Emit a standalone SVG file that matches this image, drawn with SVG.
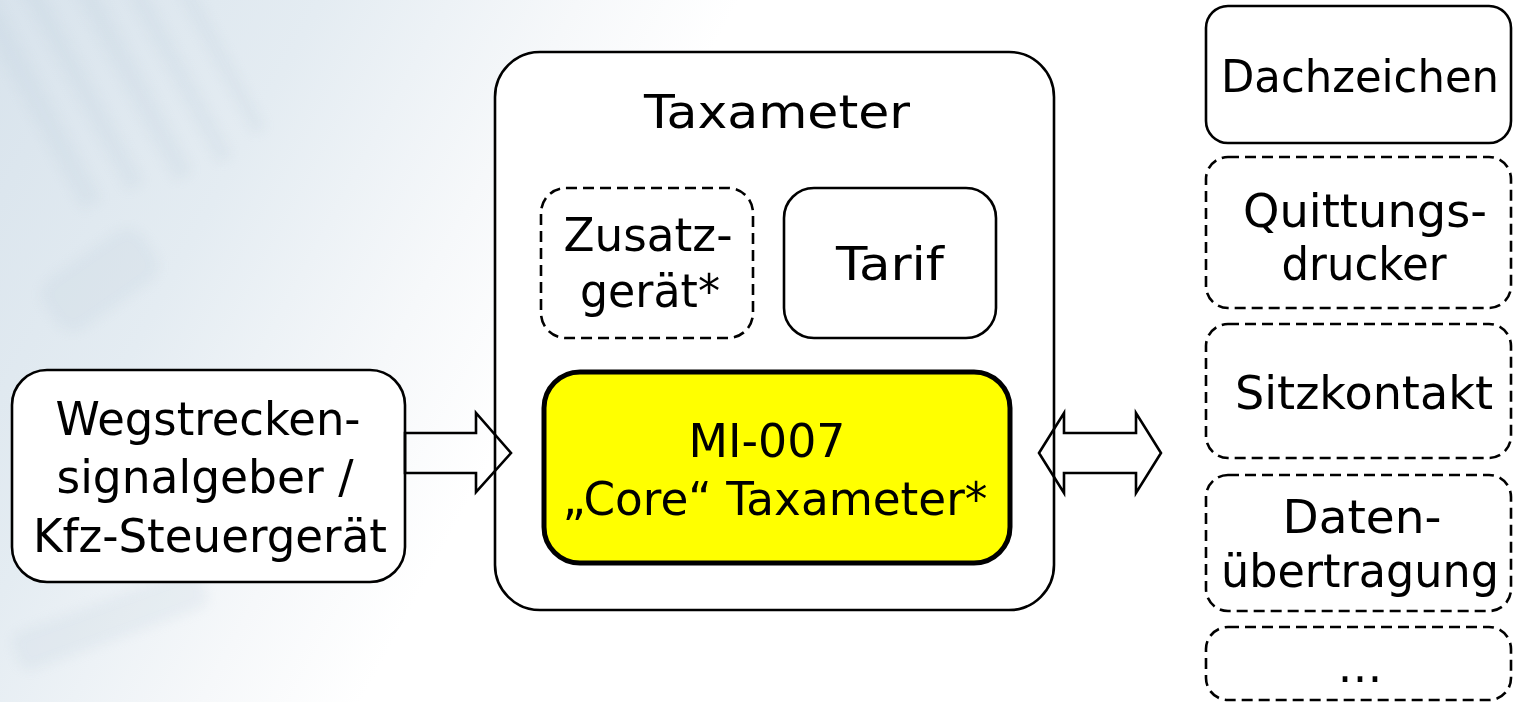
<svg xmlns="http://www.w3.org/2000/svg" width="1514" height="702" viewBox="0 0 1514 702">
  <defs>
    <linearGradient id="bgFade" x1="0" y1="0" x2="1" y2="0.25">
      <stop offset="0" stop-color="#d8e3ec"/>
      <stop offset="0.2" stop-color="#e4ecf2"/>
      <stop offset="0.36" stop-color="#f6f8fa"/>
      <stop offset="0.46" stop-color="#ffffff"/>
      <stop offset="1" stop-color="#ffffff"/>
    </linearGradient>
    <filter id="soft" x="-20%" y="-20%" width="140%" height="140%">
      <feGaussianBlur stdDeviation="6"/>
    </filter>
    <style>
      .box { fill: #ffffff; stroke: #000000; stroke-width: 2.6; }
      .dash { fill: #ffffff; stroke: #000000; stroke-width: 2.6; stroke-dasharray: 11 6; }
      .core { fill: #ffff00; stroke: #000000; stroke-width: 5; }
      .arrow { fill: none; stroke: #000000; stroke-width: 2.6; stroke-linejoin: miter; }
      text { font-family: "DejaVu Sans", "Liberation Sans", sans-serif; font-size: 47px; fill: #000000; text-anchor: middle; }
      .tight { font-size: 44px; }
    </style>
  </defs>

  <!-- background: pale blue wash on the left fading to white -->
  <rect x="0" y="0" width="1514" height="702" fill="url(#bgFade)"/>
  <g filter="url(#soft)" opacity="0.18" fill="#b9cbd9">
    <rect x="20" y="-40" width="22" height="260" transform="rotate(-28 30 90)"/>
    <rect x="70" y="-40" width="18" height="240" transform="rotate(-28 80 80)"/>
    <rect x="120" y="-40" width="20" height="230" transform="rotate(-28 130 75)"/>
    <rect x="170" y="-30" width="16" height="200" transform="rotate(-28 180 70)"/>
    <rect x="215" y="-20" width="14" height="160" transform="rotate(-28 222 60)"/>
    <rect x="40" y="250" width="120" height="60" rx="20" transform="rotate(-35 100 280)"/>
    <rect x="10" y="600" width="200" height="40" rx="12" transform="rotate(-20 110 620)"/>
  </g>

  <!-- nodes -->
  <g id="wegstrecken">
    <rect class="box" x="12" y="370" width="393" height="212" rx="35"/>
    <text x="208" y="435" textLength="305" lengthAdjust="spacingAndGlyphs">Wegstrecken-</text>
    <text x="205" y="493" textLength="297" lengthAdjust="spacingAndGlyphs">signalgeber /</text>
    <text x="210" y="552" textLength="354" lengthAdjust="spacingAndGlyphs">Kfz-Steuergerät</text>
  </g>

  <g id="taxameter">
    <rect class="box" x="495" y="52" width="559" height="558" rx="45"/>
    <text x="777" y="128" textLength="266" lengthAdjust="spacingAndGlyphs">Taxameter</text>
  </g>

  <g id="zusatzgeraet">
    <rect class="dash" x="541" y="188" width="212" height="150" rx="25"/>
    <text x="648" y="251" textLength="169" lengthAdjust="spacingAndGlyphs">Zusatz-</text>
    <text x="650" y="307" textLength="140" lengthAdjust="spacingAndGlyphs">gerät*</text>
  </g>

  <g id="tarif">
    <rect class="box" x="784" y="188" width="212" height="150" rx="30"/>
    <text x="890" y="280" textLength="108" lengthAdjust="spacingAndGlyphs">Tarif</text>
  </g>

  <g id="core">
    <rect class="core" x="544" y="372" width="466" height="191" rx="36"/>
    <text x="767" y="457" textLength="157" lengthAdjust="spacingAndGlyphs">MI-007</text>
    <text x="775" y="515" textLength="425" lengthAdjust="spacingAndGlyphs">„Core“ Taxameter*</text>
  </g>

  <g id="dachzeichen">
    <rect class="box" x="1206" y="6" width="305" height="137" rx="22"/>
    <text class="tight" x="1360" y="92" textLength="278" lengthAdjust="spacingAndGlyphs">Dachzeichen</text>
  </g>

  <g id="quittungsdrucker">
    <rect class="dash" x="1206" y="157" width="305" height="151" rx="22"/>
    <text x="1365" y="227" textLength="244" lengthAdjust="spacingAndGlyphs">Quittungs-</text>
    <text x="1364" y="280" textLength="165" lengthAdjust="spacingAndGlyphs">drucker</text>
  </g>

  <g id="sitzkontakt">
    <rect class="dash" x="1206" y="324" width="305" height="134" rx="22"/>
    <text x="1364" y="409" textLength="258" lengthAdjust="spacingAndGlyphs">Sitzkontakt</text>
  </g>

  <g id="datenuebertragung">
    <rect class="dash" x="1206" y="475" width="305" height="136" rx="22"/>
    <text x="1362" y="533" textLength="159" lengthAdjust="spacingAndGlyphs">Daten-</text>
    <text x="1360" y="587" textLength="278" lengthAdjust="spacingAndGlyphs">übertragung</text>
  </g>

  <g id="weitere">
    <rect class="dash" x="1206" y="627" width="305" height="73" rx="22"/>
    <text x="1360" y="682" textLength="45" lengthAdjust="spacingAndGlyphs">…</text>
  </g>

  <!-- connectors: block arrows -->
  <g id="connectors">
    <polygon class="arrow" points="405,433 476,433 476,413 511,453 476,492 476,473 405,473"/>
    <polygon class="arrow" points="1039,453 1064,413 1064,433 1136,433 1136,413 1161,453 1136,493 1136,473 1064,473 1064,493"/>
  </g>
</svg>
